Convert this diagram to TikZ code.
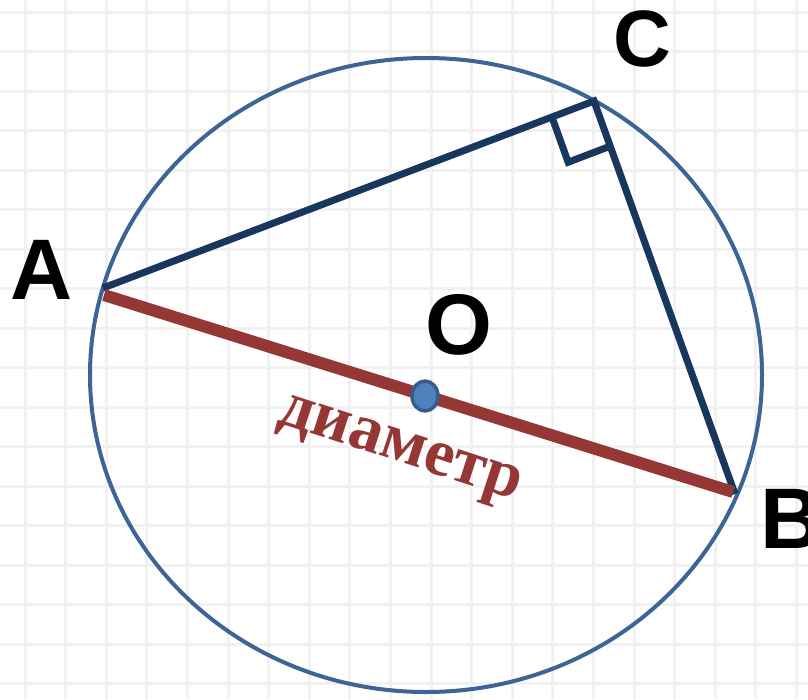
\documentclass[tikz,border=0pt]{standalone}
\usepackage{fontspec}
\setmainfont{Liberation Serif}
\newfontfamily\lblfont{Liberation Sans}
\usetikzlibrary{calc}
\definecolor{circblue}{HTML}{3C6496}
\definecolor{navy}{HTML}{17375E}
\definecolor{diamred}{HTML}{953735}
\definecolor{dotfill}{HTML}{4F81BD}
\definecolor{dotedge}{HTML}{385D8A}
\definecolor{gridc}{HTML}{F1F1F1}
\tikzset{
  ptlabel/.style={font=\lblfont\bfseries\fontsize{86}{86}\selectfont, text=black, inner sep=0pt},
  side/.style={draw=navy, line width=7pt, line join=miter},
  diam/.style={draw=diamred, line width=12pt},
}
\begin{document}
\begin{tikzpicture}[x=1pt,y=-1pt]
\useasboundingbox (0,0) rectangle (808,699);
\fill[white] (0,0) rectangle (808,699);
% grid
\foreach \i in {0,...,19} {
  \draw[gridc, line width=3pt] ({25+40.6*\i},0) -- ({25+40.6*\i},699);
}
\foreach \j in {0,...,17} {
  \draw[gridc, line width=3pt] (0,{12+39.5*\j}) -- (808,{12+39.5*\j});
}
% circle
\coordinate (M) at (426,375);
\draw[circblue, line width=4pt] (M) ellipse [x radius=336, y radius=317];
% points
\coordinate (A) at (103,288);
\coordinate (C) at (594,101);
\coordinate (B) at (735,494);
\coordinate (A2) at (104,295);
\coordinate (B2) at (733,492);
\coordinate (O) at (425,396);
% sides
\path[side] (A) -- (C) -- (B);
% right angle
\coordinate (P1) at ($(C)!45pt!(A)$);
\coordinate (P2) at ($(C)!48pt!(B)$);
\coordinate (Q) at ($(P1)+(P2)-(C)$);
\path[side] (P1) -- (Q) -- (P2);
% diameter
\path[diam] (A2) -- (B2);
\filldraw[fill=dotfill, draw=dotedge, line width=3.5pt] (O) ellipse [x radius=13, y radius=15];
% labels
\node[ptlabel] (lA) at (41.5,270) {A};
\node[ptlabel, font=\lblfont\bfseries\fontsize{80}{80}\selectfont] (lC) at (642,39) {C};
\node[ptlabel] (lO) at (459,325) {O};
\node[ptlabel] (lB) at (792,519) {B};
\node[text=diamred, font=\bfseries\fontsize{67}{67}\selectfont, rotate=-18, inner sep=0pt] (ld) at (399,453) {диаметр};
\end{tikzpicture}
\end{document}
